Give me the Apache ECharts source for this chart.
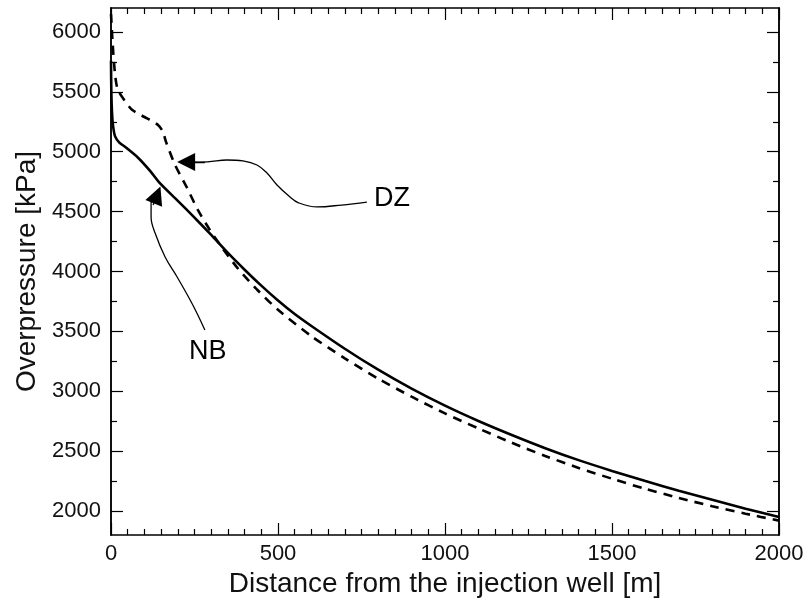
<!DOCTYPE html>
<html>
<head>
<meta charset="utf-8">
<script src="https://cdn.jsdelivr.net/npm/echarts@6/dist/echarts.min.js"></script>
<style>html,body{margin:0;padding:0;background:#fff}#c{width:811px;height:605px}</style>
</head>
<body>
<div id="c"></div>
<script>
// ---- data ----
const nbData = [[0,5760],[1,5500],[3,5330],[6,5220],[12,5130],[25,5075],[40,5045],[81,4950],[117,4840],[147,4735],[200,4590],[250,4450],[300,4305],[350,4155],[400,4015],[450,3882],[500,3758],[550,3645],[600,3545],[700,3355],[800,3180],[900,3022],[1000,2880],[1100,2752],[1200,2635],[1300,2525],[1400,2425],[1500,2335],[1600,2250],[1700,2170],[1800,2095],[1900,2020],[2000,1950]];
const dzData = [[0,6150],[5,5900],[12,5650],[20,5520],[40,5430],[63,5350],[100,5290],[117,5265],[140,5225],[155,5170],[165,5080],[192,4889],[228,4697],[260,4514],[296,4347],[335,4190],[380,4025],[437,3850],[500,3680],[600,3460],[700,3275],[800,3105],[900,2955],[1000,2815],[1100,2690],[1200,2570],[1300,2460],[1400,2360],[1500,2270],[1600,2185],[1700,2110],[1800,2040],[1900,1978],[2000,1920]];
const yTicks = [2000,2500,3000,3500,4000,4500,5000,5500,6000];
const yMinorTicks = [2250,2750,3250,3750,4250,4750,5250,5750];
const xTickInterval = 500;
// annotation leader curves (data coordinates)
const dzLeader = [[766,4580],[690,4555],[617,4539],[560,4575],[536,4622],[497,4722],[467,4822],[437,4889],[395,4923],[347,4931],[290,4916],[240,4913]];
const dzArrow = [[281,4914],[225,4914]];
const nbLeader = [[281,3512],[260,3637],[237,3762],[198,3954],[162,4121],[132,4321],[120,4455],[120,4572],[128,4620],[136,4645]];
const nbArrow = [[126,4555],[138,4639]];
const labelNames = ['DZ','NB'];
const labelPos = [[841,4605],[290,3328]];

const FONT = "'Liberation Sans', Arial, sans-serif";
const chart = echarts.init(document.getElementById('c'), null, {renderer:'canvas'});
const axisLine = {show:true, lineStyle:{color:'#000', width:1.5}};
function xAx(pos, showLabel){
  return {
    type:'value', position:pos, min:0, max:2000, interval:xTickInterval,
    axisLine: axisLine,
    axisTick:{show:true, inside:true, length:12, lineStyle:{color:'#000', width:1.2}},
    minorTick:{show:true, splitNumber:10, length:6, lineStyle:{color:'#000', width:1.2}},
    splitLine:{show:false}, minorSplitLine:{show:false},
    axisLabel:{show:showLabel, fontSize:22, color:'#111', fontFamily:FONT, margin:8, formatter:v=>String(v)},
    name: showLabel ? 'Distance from the injection well [m]' : '',
    nameLocation:'middle', nameGap:32,
    nameTextStyle:{fontSize:28, color:'#111', fontFamily:FONT}
  };
}
function yAx(pos, ticks, len, showLabel, title){
  return {
    type:'value', position:pos, min:1800, max:6200,
    axisLine: axisLine,
    axisTick:{show:true, inside:true, length:len, customValues:ticks, lineStyle:{color:'#000', width:1.2}},
    splitLine:{show:false},
    axisLabel:{show:showLabel, customValues:ticks, fontSize:22, color:'#111', fontFamily:FONT, margin:10, formatter:v=>String(v)},
    name: title || '',
    nameLocation:'middle', nameGap:57,
    nameTextStyle:{fontSize:28, color:'#111', fontFamily:FONT}
  };
}
const option = {
  backgroundColor:'#fff',
  animation:false,
  grid:{left:111, right:32, top:8, bottom:70, containLabel:false, outerBoundsMode:'none'},
  xAxis:[xAx('bottom', true), xAx('top', false)],
  yAxis:[
    yAx('left', yTicks, 12, true, 'Overpressure [kPa]'),
    yAx('left', yMinorTicks, 6, false),
    yAx('right', yTicks, 12, false),
    yAx('right', yMinorTicks, 6, false)
  ],
  series:[
    {type:'line', name:'NB', data:nbData, showSymbol:false, symbol:'none', smooth:0.25,
     lineStyle:{color:'#000', width:2.6}, z:5},
    {type:'line', name:'DZ', data:dzData, showSymbol:false, symbol:'none', smooth:0.25,
     lineStyle:{color:'#000', width:2.6, type:[9,7]}, z:5},
    {type:'line', data:dzLeader, showSymbol:false, symbol:'none', smooth:0.4,
     lineStyle:{color:'#000', width:1.3}, z:4},
    {type:'line', data:nbLeader, showSymbol:false, symbol:'none', smooth:0.4,
     lineStyle:{color:'#000', width:1.3}, z:4},
    {type:'lines', coordinateSystem:'cartesian2d', symbol:['none','triangle'], symbolSize:[10,18],
     lineStyle:{color:'#000', width:1.3, opacity:1}, itemStyle:{color:'#000'},
     data:[{coords:dzArrow},{coords:nbArrow}], z:6}
  ]
};
chart.setOption(option);
// annotation texts placed through the chart's own coordinate conversion
const graphics = labelNames.map((t,i)=>{
  const p = chart.convertToPixel({xAxisIndex:0, yAxisIndex:0}, labelPos[i]);
  return {type:'text', x:p[0], y:p[1], z:100,
    style:{text:t, fill:'#000', font:"27px 'Liberation Sans', Arial, sans-serif", align:'center', verticalAlign:'middle'}};
});
chart.setOption({graphic:graphics});
</script>
</body>
</html>
